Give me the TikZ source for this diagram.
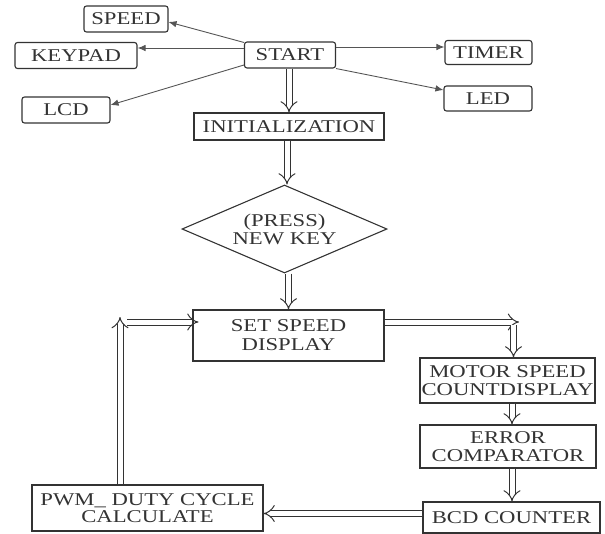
\documentclass[tikz,border=0pt]{standalone}
\usepackage{fontspec}
\setmainfont{Liberation Serif}[FakeStretch=1.26]
\usetikzlibrary{shapes.geometric,arrows.meta,calc}
\definecolor{ink}{HTML}{333333}
\definecolor{thinline}{HTML}{555555}
\begin{document}
\begin{tikzpicture}[x=1pt,y=-1pt,
  every node/.style={text=ink,font=\fontsize{18}{19}\selectfont},
  rbox/.style={draw=ink,line width=1.1pt,rounded corners=2.5pt,inner sep=0pt,align=center},
  sbox/.style={draw=ink,line width=1.1pt,inner sep=0pt,align=center},
  thinarrow/.style={draw=thinline,line width=0.9pt,-{Latex[length=8pt,width=6.5pt]}},
  dblarrow/.style={draw=ink,line width=1pt,double,double distance=5pt,-{Implies}}]
\useasboundingbox (0,0) rectangle (605,533);
% top boxes
\node[rbox,minimum width=84pt,minimum height=26pt] (speed) at (126,19) {SPEED};
\node[rbox,minimum width=122pt,minimum height=26pt] (keypad) at (76,55.5) {KEYPAD};
\node[rbox,minimum width=88pt,minimum height=26pt] (lcd) at (66,110) {LCD};
\node[rbox,minimum width=91pt,minimum height=26pt] (start) at (290,55) {START};
\node[rbox,minimum width=87pt,minimum height=24pt] (timer) at (488.5,52.5) {TIMER};
\node[rbox,minimum width=88pt,minimum height=25pt] (led) at (488,98.5) {LED};
\node[sbox,minimum width=190pt,minimum height=27pt] (init) at (289,126.5) {INITIALIZATION};
\node[draw=ink,line width=1.1pt,diamond,aspect=2.33,inner sep=0pt,minimum width=205pt,minimum height=88pt,align=center] (dia) at (284.5,229) {(PRESS)\\[-1pt]NEW KEY};
\node[sbox,minimum width=191pt,minimum height=51pt] (setsp) at (288.5,335.5) {SET SPEED\\DISPLAY};
\node[sbox,minimum width=175pt,minimum height=45pt] (motor) at (507.5,380.5) {MOTOR SPEED\\[-1pt]COUNTDISPLAY};
\node[sbox,minimum width=176pt,minimum height=43pt] (error) at (508,446.5) {ERROR\\[-1pt]COMPARATOR};
\node[sbox,minimum width=177pt,minimum height=31pt] (bcd) at (511.5,517.5) {BCD COUNTER};
\node[sbox,minimum width=231pt,minimum height=46pt] (pwm) at (147.5,508) {PWM\_ DUTY CYCLE\\[-2pt]CALCULATE};
% thin arrows from START
\draw[thinarrow] ([yshift=-1pt]start.north west) -- ([yshift=-3pt]speed.east);
\draw[thinarrow] ([yshift=7pt]start.west) -- ([yshift=7.5pt]keypad.east);
\draw[thinarrow] ([yshift=-10pt]start.west) -- ([yshift=5pt]lcd.east);
\draw[thinarrow] ([yshift=8pt]start.east) -- ([yshift=5.5pt]timer.east -| timer.west);
\draw[thinarrow] (start.south east) -- ([yshift=8.5pt]led.west);
% double arrows
\draw[dblarrow] (start.south -| init.north) -- (init.north);
\draw[dblarrow] ([xshift=-2pt]init.south) -- ([xshift=-2pt]init.south |- dia.north);
\draw[dblarrow] (dia.south -| setsp.north) -- (setsp.north);
\coordinate (cr) at (519,322);
\coordinate (cl) at (120,317);
\draw[dblarrow] ([yshift=13.5pt]setsp.east) -- (cr);
\draw[dblarrow] ([xshift=6pt,yshift=-3pt]motor.north |- cr) -- ([xshift=6pt]motor.north);
\draw[dblarrow] ([xshift=4.5pt]motor.south) -- ([xshift=4.5pt]motor.south |- error.north);
\draw[dblarrow] ([xshift=4pt]error.south) -- ([xshift=4pt]error.south |- bcd.north);
\draw[dblarrow] ([yshift=4pt]bcd.west) -- ([yshift=4pt]bcd.west -| pwm.east);
\draw[dblarrow] (cl |- pwm.north) -- (cl);
\draw[dblarrow] ([xshift=7pt,yshift=-5pt]cl) -- ([yshift=13.5pt,xshift=6pt]setsp.west);
\end{tikzpicture}
\end{document}
